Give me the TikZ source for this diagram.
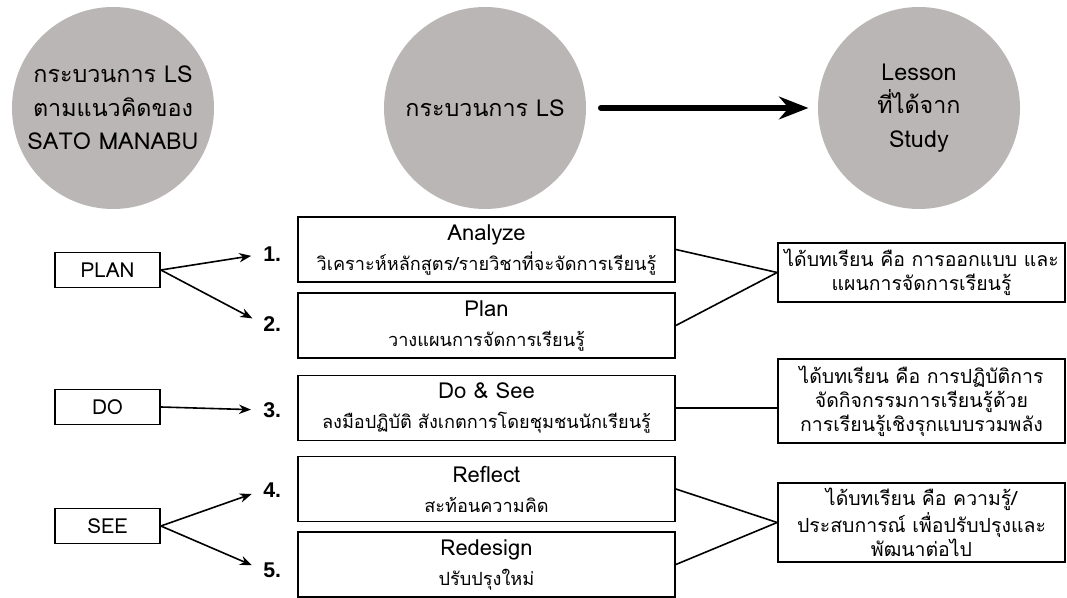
\documentclass[tikz,border=0pt]{standalone}
\usepackage{fontspec}
\setmainfont{Liberation Sans}
\newfontfamily\thaifont[Script=Thai]{Loma}
\usetikzlibrary{arrows.meta}
\definecolor{circgray}{RGB}{186,182,181}
\begin{document}
\begin{tikzpicture}[x=0.75pt,y=-0.75pt,
  circ/.style={circle, fill=circgray, minimum size=151.5pt, inner sep=0pt, align=center, font=\thaifont\fontsize{17.5}{25}\selectfont},
  tagbox/.style={draw, line width=1.3pt, minimum width=78.75pt, minimum height=26.25pt, inner sep=0pt, font=\thaifont\fontsize{15.5}{17}\selectfont},
  stepbox/.style={draw, line width=1.3pt, minimum width=282.75pt, minimum height=48.75pt, inner sep=0pt, align=center, font=\thaifont\fontsize{13.6}{22.5}\selectfont},
  resbox/.style={draw, line width=1.3pt, minimum width=215.25pt, inner sep=0pt, align=center, font=\thaifont\fontsize{14.6}{18}\selectfont},
  num/.style={anchor=west, inner sep=0pt, font=\bfseries\fontsize{16}{18}\selectfont},
  arr/.style={line width=1.2pt, -{Stealth[length=9pt,width=7pt]}, shorten >=9pt},
  conn/.style={line width=1.2pt}
]
\useasboundingbox (0,0) rectangle (1067,598);
\fill[white] (0,0) rectangle (1067,598);

% circles
\node[circ] (c1) at (113,108) {กระบวนการ LS\\ตามแนวคิดของ\\SATO MANABU};
\node[circ] (c2) at (485,108) {กระบวนการ LS};
\node[circ] (c3) at (919,108) {Lesson\\ที่ได้จาก\\Study};
\draw[line width=4.5pt, line cap=round, -{Stealth[length=22pt,width=17pt]}, shorten <=11pt, shorten >=7pt] (c2.east) -- (c3.west);

% left tags
\node[tagbox] (plan) at (107.5,270) {PLAN};
\node[tagbox] (do) at (107.5,407) {DO};
\node[tagbox] (see) at (107.5,526) {SEE};

% steps
\node[stepbox] (s1) at (486.5,249.5) {{\fontsize{16.5}{22.5}\selectfont Analyze}\\วิเคราะห์หลักสูตร/รายวิชาที่จะจัดการเรียนรู้};
\node[stepbox] (s2) at (486.5,325.5) {{\fontsize{16.5}{22.5}\selectfont Plan}\\วางแผนการจัดการเรียนรู้};
\node[stepbox] (s3) at (486.5,408) {{\fontsize{16.5}{22.5}\selectfont Do \& See}\\ลงมือปฏิบัติ สังเกตการโดยชุมชนนักเรียนรู้};
\node[stepbox] (s4) at (486.5,489) {{\fontsize{16.5}{22.5}\selectfont Reflect}\\สะท้อนความคิด};
\node[stepbox] (s5) at (486.5,564.5) {{\fontsize{16.5}{22.5}\selectfont Redesign}\\ปรับปรุงใหม่};

% numbers
\node[num] (n1) at (263,254) {1.};
\node[num] (n2) at (263,324) {2.};
\node[num] (n3) at (263,410) {3.};
\node[num] (n4) at (263,490) {4.};
\node[num] (n5) at (263,570) {5.};

% results
\node[resbox, minimum height=44.25pt] (r1) at (921.5,272.5) {ได้บทเรียน คือ การออกแบบ และ\\แผนการจัดการเรียนรู้};
\node[resbox, minimum height=63pt] (r2) at (921.5,401) {ได้บทเรียน คือ การปฏิบัติการ\\จัดกิจกรรมการเรียนรู้ด้วย\\การเรียนรู้เชิงรุกแบบรวมพลัง};
\node[resbox, minimum height=59.25pt] (r3) at (921.5,522.5) {ได้บทเรียน คือ ความรู้/\\ประสบการณ์ เพื่อปรับปรุงและ\\พัฒนาต่อไป};

% arrows from tags
\draw[arr] (plan.east) -- (n1.west);
\draw[arr] (plan.east) -- (n2.west);
\draw[arr] (do.east) -- (n3.west);
\draw[arr] (see.east) -- (n4.west);
\draw[arr] (see.east) -- (n5.west);

% connectors to results
\draw[conn] (s1.east) -- (r1.west);
\draw[conn] (s2.east) -- (r1.west);
\draw[conn] (s3.east) -- (s3.east -| r2.west);
\draw[conn] (s4.east) -- (r3.west);
\draw[conn] (s5.east) -- (r3.west);
\end{tikzpicture}
\end{document}
